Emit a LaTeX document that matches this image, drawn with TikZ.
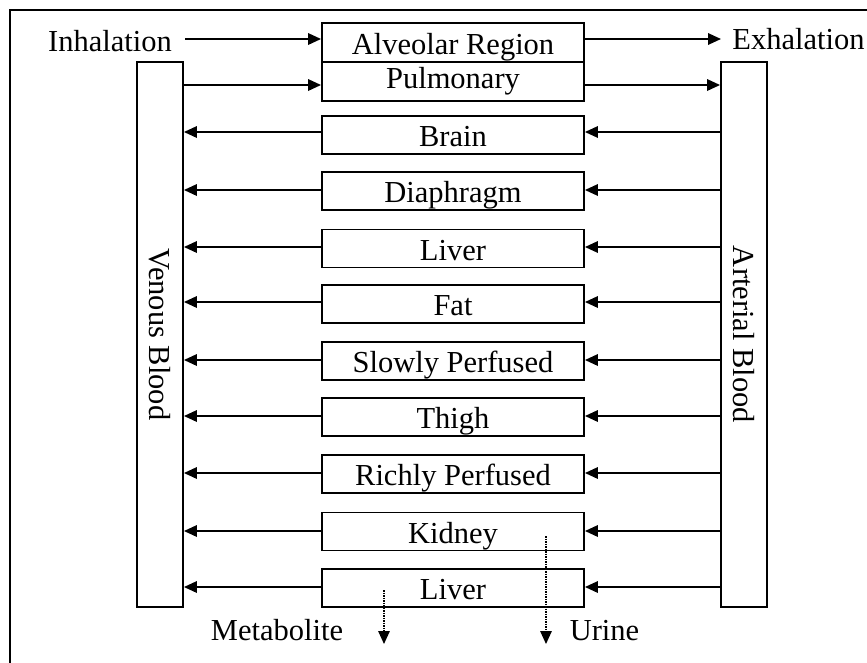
\documentclass[tikz,border=0pt]{standalone}
\usepackage{fontspec}
\setmainfont{Liberation Serif}
\usetikzlibrary{arrows.meta}
\begin{document}
\begin{tikzpicture}[x=1pt,y=-1pt,
  every node/.style={font=\fontsize{30.5}{36}\selectfont},
  organ/.style={draw,line width=1.9pt,minimum width=262pt,minimum height=38pt,inner sep=0pt,text height=23pt,text depth=0pt},
  blood/.style={draw,line width=1.9pt,minimum width=46pt,minimum height=545pt,inner sep=0pt},
  lbl/.style={inner sep=0pt},
  arr/.style={line width=1.8pt,-{Triangle[length=13pt,width=11.5pt]}},
  darr/.style={line width=1.5pt,densely dotted,-{Triangle[length=13pt,width=11.5pt]}}]
\useasboundingbox (0,0) rectangle (867,662);
\draw[line width=2pt] (10,670) -- (10,10) -- (875,10);
% blood compartments
\node[blood] (ven) at (160,334.5) {};
\node[blood] (art) at (744,334.5) {};
\node[lbl,rotate=-90] at (ven.center) {Venous Blood};
\node[lbl,rotate=-90] at (art.center) {Arterial Blood};
% lungs
\node[organ,minimum height=39pt] (alv) at (453,42.5) {Alveolar Region};
\node[organ,minimum height=39pt,text height=13pt] (pul) at (453,81.5) {Pulmonary};
\node[lbl,anchor=base] (inh) at (110,51) {Inhalation};
\node[lbl,anchor=base] (exh) at (798.5,49) {Exhalation};
\coordinate (inhS) at (185,39);
\coordinate (exhE) at (721,39);
\draw[arr] (inhS) -- (alv.west |- inhS);
\draw[arr] (alv.east |- exhE) -- (exhE);
\draw[arr] (ven.east |- 0,85) -- (pul.west |- 0,85);
\draw[arr] (pul.east |- 0,85) -- (art.west |- 0,85);
% organs
\foreach \n/\t/\y/\a in {brain/Brain/135/132, dia/Diaphragm/191/190, liv/Liver/248.5/247, fat/Fat/304/302,
  slow/Slowly Perfused/361/360, thigh/Thigh/417/416, rich/Richly Perfused/474/473,
  kid/Kidney/531.5/531, liv2/Liver/588/587}{
  \node[organ] (\n) at (453,\y) {\t};
  \draw[arr] (art.west |- 0,\a) -- (\n.east |- 0,\a);
  \draw[arr] (\n.west |- 0,\a) -- (ven.east |- 0,\a);
}
% elimination
\coordinate (m1) at (384,590);
\coordinate (m2) at (384,644);
\coordinate (u1) at (546,536);
\coordinate (u2) at (546,644);
\draw[darr] (m1) -- (m2);
\draw[darr] (u1) -- (u2);
\node[lbl,anchor=base] (met) at (277,640) {Metabolite};
\node[lbl,anchor=base] (uri) at (604.5,640) {Urine};
\end{tikzpicture}
\end{document}
